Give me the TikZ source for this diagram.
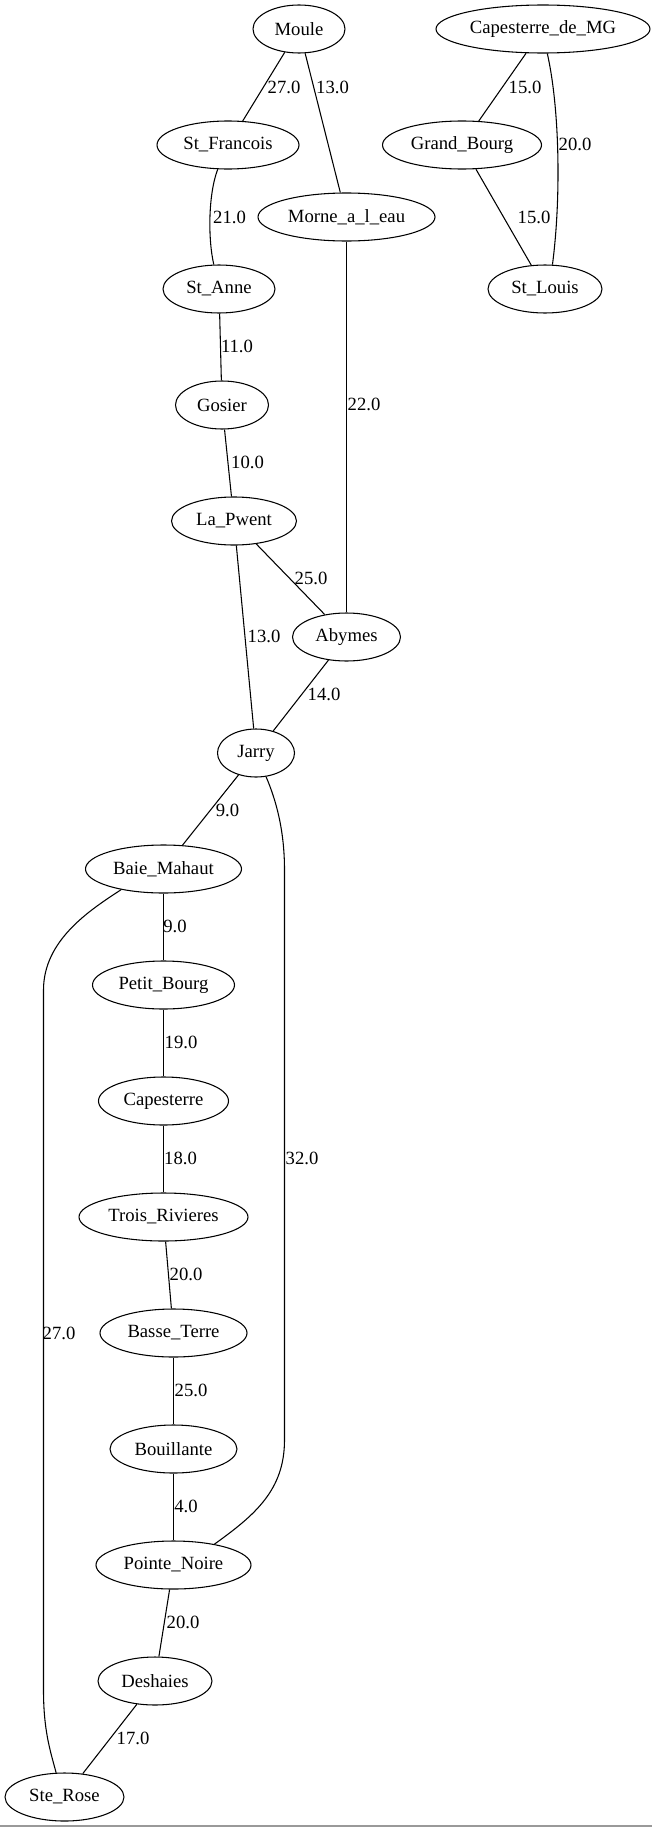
\documentclass[tikz,border=0pt]{standalone}
\usepackage{fontspec}
\setmainfont{Liberation Serif}
\usetikzlibrary{shapes.geometric}
\tikzset{
  city/.style={draw, ellipse, line width=0.8pt, inner sep=0pt, minimum height=36pt, font=\fontsize{14pt}{16pt}\selectfont},
  lbl/.style={inner sep=0pt, font=\fontsize{14pt}{16pt}\selectfont},
  road/.style={draw, line width=0.8pt}
}
\begin{document}
\begin{tikzpicture}[x=0.75pt,y=-0.75pt]
\useasboundingbox (0,0) rectangle (652,1827);
% nodes
\node[city, minimum width=69pt] (moule) at (299,29) {Moule};
\node[city, minimum width=160.5pt] (capmg) at (543,29) {Capesterre\_de\_MG};
\node[city, minimum width=106.5pt] (stf) at (228,145) {St\_Francois};
\node[city, minimum width=119.25pt] (gb) at (462,145) {Grand\_Bourg};
\node[city, minimum width=132.75pt] (morne) at (346.5,217) {Morne\_a\_l\_eau};
\node[city, minimum width=84pt] (sta) at (219,289) {St\_Anne};
\node[city, minimum width=85.5pt] (stl) at (545,289) {St\_Louis};
\node[city, minimum width=69.75pt] (gosier) at (222,405) {Gosier};
\node[city, minimum width=93.75pt] (lap) at (234,521) {La\_Pwent};
\node[city, minimum width=81pt] (aby) at (346.5,637) {Abymes};
\node[city, minimum width=57.75pt] (jarry) at (256,753) {Jarry};
\node[city, minimum width=117pt] (bm) at (163.5,869) {Baie\_Mahaut};
\node[city, minimum width=106.5pt] (pb) at (163.5,985) {Petit\_Bourg};
\node[city, minimum width=97.5pt] (cap) at (163.5,1101) {Capesterre};
\node[city, minimum width=126.75pt] (tr) at (163.5,1217) {Trois\_Rivieres};
\node[city, minimum width=110.25pt] (bt) at (173.5,1333) {Basse\_Terre};
\node[city, minimum width=95.25pt] (bou) at (173.5,1449) {Bouillante};
\node[city, minimum width=116.25pt] (pn) at (173.5,1565) {Pointe\_Noire};
\node[city, minimum width=85.5pt] (desh) at (155,1681) {Deshaies};
\node[city, minimum width=89.25pt] (sr) at (64.5,1797) {Ste\_Rose};
% edges
\path[road] (moule) -- (stf);
\path[road] (moule) -- (morne);
\path[road] (capmg) -- (gb);
\path[road] (capmg.-80) .. controls (560,110) and (561,200) .. (stl.73);
\path[road] (gb) -- (stl);
\path[road] (stf.-113) .. controls (208,195) and (208,240) .. (sta.102);
\path[road] (morne) -- (aby);
\path[road] (sta) -- (gosier);
\path[road] (gosier) -- (lap);
\path[road] (lap) -- (aby);
\path[road] (lap) -- (jarry);
\path[road] (aby) -- (jarry);
\path[road] (jarry) -- (bm);
\path[road] (jarry.-67) .. controls (276,800) and (284.5,830) .. (284.5,870) -- (284.5,1440) .. controls (284.5,1490) and (255,1515) .. (pn.27);
\path[road] (bm.206) .. controls (90,910) and (43.5,940) .. (43.5,990) -- (43.5,1690) .. controls (43.5,1730) and (50,1750) .. (sr.109);
\path[road] (bm) -- (pb);
\path[road] (pb) -- (cap);
\path[road] (cap) -- (tr);
\path[road] (tr) -- (bt);
\path[road] (bt) -- (bou);
\path[road] (bou) -- (pn);
\path[road] (pn) -- (desh);
\path[road] (desh) -- (sr);
% labels
\node[lbl] (l1) at (284,87) {27.0};
\node[lbl] (l2) at (332.5,87) {13.0};
\node[lbl] (l3) at (525,87) {15.0};
\node[lbl] (l4) at (575,144) {20.0};
\node[lbl] (l5) at (229.5,217) {21.0};
\node[lbl] (l6) at (534,217) {15.0};
\node[lbl] (l7) at (237,346) {11.0};
\node[lbl] (l8) at (364,404) {22.0};
\node[lbl] (l9) at (247.5,462) {10.0};
\node[lbl] (l10) at (311,578) {25.0};
\node[lbl] (l11) at (264,636) {13.0};
\node[lbl] (l12) at (324,694) {14.0};
\node[lbl] (l13) at (227.5,810) {9.0};
\node[lbl] (l14) at (175,926) {9.0};
\node[lbl] (l15) at (181,1042) {19.0};
\node[lbl] (l16) at (180.5,1158) {18.0};
\node[lbl] (l17) at (302,1158) {32.0};
\node[lbl] (l18) at (186,1274) {20.0};
\node[lbl] (l19) at (59,1333) {27.0};
\node[lbl] (l20) at (191,1390) {25.0};
\node[lbl] (l21) at (186,1506) {4.0};
\node[lbl] (l22) at (183,1622) {20.0};
\node[lbl] (l23) at (133,1738) {17.0};
% bottom rule
\draw[gray!80, line width=1.5pt] (0,1826) -- (652,1826);
\end{tikzpicture}
\end{document}
